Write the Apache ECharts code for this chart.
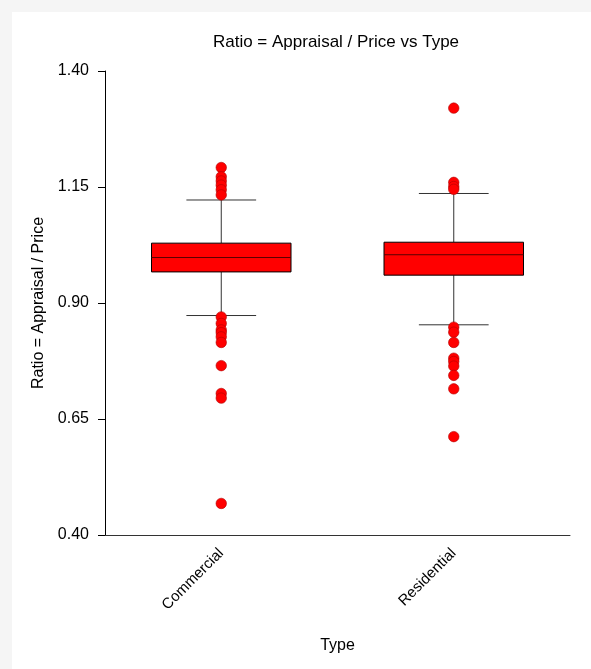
<!DOCTYPE html>
<html>
<head>
<meta charset="utf-8">
<script src="https://cdn.jsdelivr.net/npm/echarts@6/dist/echarts.min.js"></script>
<style>
html,body{margin:0;padding:0;background:#f5f5f5;}
#c{width:591px;height:669px;}
</style>
</head>
<body>
<div id="c"></div>
<script>
const categories = ['Commercial', 'Residential'];
// [lowWhisker, q1, median, q3, highWhisker]
const commercialBox = [0.873, 0.967, 0.998, 1.029, 1.122];
const residentialBox = [0.853, 0.960, 1.004, 1.031, 1.136];
const commercialOutliers = [1.192, 1.172, 1.163, 1.154, 1.144, 1.133, 0.870, 0.856, 0.842, 0.836, 0.827, 0.815, 0.765, 0.705, 0.695, 0.468];
const residentialOutliers = [1.320, 1.160, 1.151, 1.145, 0.848, 0.837, 0.815, 0.781, 0.774, 0.764, 0.744, 0.715, 0.612];
const yTicks = [0.40, 0.65, 0.90, 1.15, 1.40];

const boxData = [[0].concat(commercialBox), [1].concat(residentialBox)];
const outlierData = commercialOutliers.map(v => [0, v]).concat(residentialOutliers.map(v => [1, v]));

const chart = echarts.init(document.getElementById('c'), null, {renderer: 'canvas'});
const font = 'Arial, "Liberation Sans", sans-serif';

function renderBox(params, api) {
  const idx = api.value(0);
  const lo = api.coord([idx, api.value(1)]);
  const q1 = api.coord([idx, api.value(2)]);
  const med = api.coord([idx, api.value(3)]);
  const q3 = api.coord([idx, api.value(4)]);
  const hi = api.coord([idx, api.value(5)]);
  const band = api.size([1, 0])[0];
  const bw = band * 0.6;
  const cw = band * 0.3;
  const x = lo[0];
  const lineStyle = {stroke: '#333333', lineWidth: 1};
  return {
    type: 'group',
    children: [
      {type: 'line', shape: {x1: x, y1: hi[1], x2: x, y2: q3[1]}, style: lineStyle},
      {type: 'line', shape: {x1: x, y1: q1[1], x2: x, y2: lo[1]}, style: lineStyle},
      {type: 'line', shape: {x1: x - cw / 2, y1: hi[1], x2: x + cw / 2, y2: hi[1]}, style: lineStyle},
      {type: 'line', shape: {x1: x - cw / 2, y1: lo[1], x2: x + cw / 2, y2: lo[1]}, style: lineStyle},
      {type: 'rect', shape: {x: x - bw / 2, y: q3[1], width: bw, height: q1[1] - q3[1]},
        style: {fill: '#ff0000', stroke: '#000000', lineWidth: 1}},
      {type: 'line', shape: {x1: x - bw / 2, y1: med[1], x2: x + bw / 2, y2: med[1]},
        style: {stroke: '#5a0000', lineWidth: 1}}
    ]
  };
}

chart.setOption({
  backgroundColor: '#f5f5f5',
  animation: false,
  graphic: [{
    type: 'rect', z: -10, silent: true,
    shape: {x: 12, y: 12, width: 591, height: 669},
    style: {fill: '#ffffff'}
  }],
  title: {
    text: 'Ratio = Appraisal / Price vs Type',
    left: 331, top: 29, textAlign: 'center',
    textStyle: {fontFamily: font, fontSize: 17, fontWeight: 'normal', color: '#000'}
  },
  grid: {left: 105, right: 21, top: 71, bottom: 134},
  xAxis: {
    type: 'category',
    data: categories,
    name: 'Type',
    nameLocation: 'middle',
    nameGap: 103,
    nameTextStyle: {fontFamily: font, fontSize: 16, color: '#000'},
    axisLine: {lineStyle: {color: '#333', width: 1}},
    axisTick: {alignWithLabel: true, length: 6, lineStyle: {color: '#333'}},
    axisLabel: {rotate: 45, fontFamily: font, fontSize: 15, color: '#000', margin: 16},
    splitLine: {show: false}
  },
  yAxis: {
    type: 'value',
    min: yTicks[0],
    max: yTicks[yTicks.length - 1],
    interval: 0.25,
    name: 'Ratio = Appraisal / Price',
    nameLocation: 'middle',
    nameGap: 57,
    nameTextStyle: {fontFamily: font, fontSize: 16, color: '#000'},
    axisLine: {show: true, lineStyle: {color: '#000', width: 1}},
    axisTick: {show: true, length: 7, lineStyle: {color: '#000'}},
    axisLabel: {fontFamily: font, fontSize: 16, color: '#000', margin: 16,
      formatter: v => v.toFixed(2)},
    splitLine: {show: false}
  },
  series: [
    {
      type: 'custom',
      renderItem: renderBox,
      data: boxData,
      encode: {x: 0, y: [1, 2, 3, 4, 5]},
      z: 2
    },
    {
      type: 'scatter',
      data: outlierData,
      symbol: 'circle',
      symbolSize: 10.5,
      itemStyle: {color: '#ff0000', borderColor: '#b00000', borderWidth: 0.6, opacity: 1},
      z: 3
    }
  ]
});
</script>
</body>
</html>
